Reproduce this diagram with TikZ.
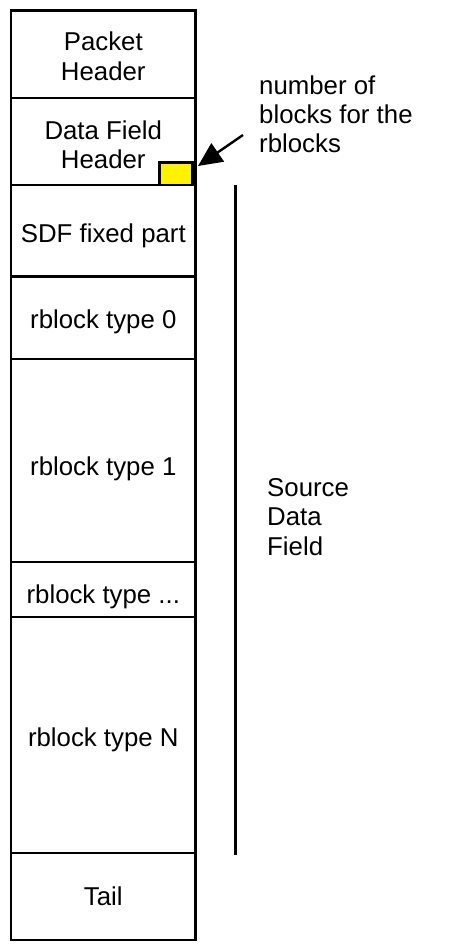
\documentclass[tikz,border=0pt]{standalone}
\usepackage{fontspec}
\setmainfont{Liberation Sans}
\usetikzlibrary{arrows.meta}
\begin{document}
\begin{tikzpicture}[x=1pt,y=-1pt,
  rowbox/.style={draw=black,line width=2.5pt,minimum width=184.5pt,inner sep=0pt,outer sep=0pt,anchor=north west},
  lbl/.style={anchor=base,inner sep=0pt,font=\fontsize{25.8}{29.5}\selectfont},
  lbll/.style={lbl,anchor=base west},
  pointer/.style={draw=black,line width=2.4pt,-{Triangle[length=24pt,width=22pt]}},
  marker/.style={draw=black,fill=yellow,line width=2.2pt,minimum width=33pt,minimum height=22.5pt,inner sep=0pt,outer sep=0pt,anchor=south east}
]
\useasboundingbox (0,0) rectangle (465,947);
% column rows
\node[rowbox,minimum height=87.3pt] (ph)   at (11,10.7) {};
\node[rowbox,minimum height=87pt]   (dfh)  at (11,98) {};
\node[rowbox,minimum height=91.5pt] (sdf)  at (11,185) {};
\node[rowbox,minimum height=82.5pt] (rb0)  at (11,276.5) {};
\node[rowbox,minimum height=203pt]  (rb1)  at (11,359) {};
\node[rowbox,minimum height=55pt]   (rbd)  at (11,562) {};
\node[rowbox,minimum height=236pt]  (rbn)  at (11,617) {};
\node[rowbox,minimum height=87pt]   (tail) at (11,853) {};
% yellow marker
\node[marker] (ybox) at (192.5,185) {};
% row texts
\node[lbl] (tph1)  at (103.3,50.7) {Packet};
\node[lbl] (tph2)  at (103.3,81) {Header};
\node[lbl] (tdfh1) at (103.3,139.5) {Data Field};
\node[lbl] (tdfh2) at (103.3,168) {Header};
\node[lbl] (tsdf)  at (103.3,242.7) {SDF fixed part};
\node[lbl] (trb0)  at (103.3,328) {rblock type 0};
\node[lbl] (trb1)  at (103.3,475) {rblock type 1};
\node[lbl] (trbd)  at (103.3,603) {rblock type ...};
\node[lbl] (trbn)  at (103.3,746) {rblock type N};
\node[lbl] (ttail) at (103.3,905) {Tail};
% source data field bracket line
\coordinate (stop) at (235.5,185);
\coordinate (sbot) at (235.5,855);
\draw[line width=2.8pt] (stop) -- (sbot);
\node[lbll] (src1) at (267,496) {Source};
\node[lbll] (src2) at (267,525.5) {Data};
\node[lbll] (src3) at (267,555) {Field};
% annotation
\node[lbll] (n1) at (259,94.3) {number of};
\node[lbll] (n2) at (259,123.3) {blocks for the};
\node[lbll] (n3) at (259,153) {rblocks};
\coordinate (atail) at (243,135);
\coordinate (atip) at (198,166);
\draw[pointer] (atail) -- (atip);
\end{tikzpicture}
\end{document}
